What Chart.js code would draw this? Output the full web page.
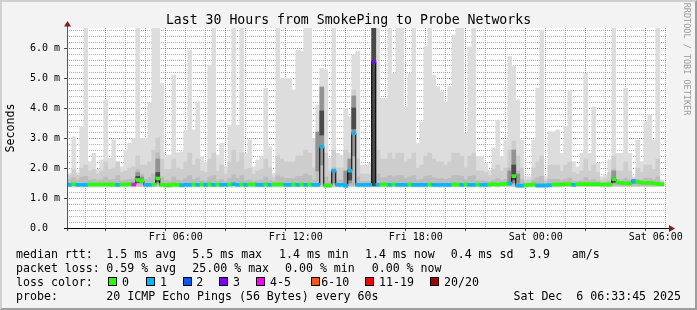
<!DOCTYPE html>
<html><head><meta charset="utf-8">
<script src="https://cdn.jsdelivr.net/npm/chart.js@4/dist/chart.umd.min.js"></script>
<style>
html,body{margin:0;padding:0;}
body{width:697px;height:310px;position:relative;overflow:hidden;background:#f3f3f3;font-family:"DejaVu Sans Mono",monospace;color:#000;}
#frame{position:absolute;left:0;top:0;width:697px;height:310px;box-sizing:border-box;border-top:2px solid #cfcfcf;border-left:2px solid #cfcfcf;border-right:2px solid #9e9e9e;border-bottom:2px solid #9e9e9e;}
canvas{position:absolute;left:0;top:0;}
.t{position:absolute;white-space:pre;font-size:11.6px;line-height:14px;}
.box{position:absolute;width:9px;height:9px;box-sizing:border-box;border:1px solid #000;}
#title{position:absolute;left:0;top:11.5px;width:697px;text-align:center;font-size:13.2px;line-height:16px;white-space:pre;}
#ytitle{position:absolute;left:-40px;top:121px;width:100px;text-align:center;font-size:11.6px;line-height:14px;transform:rotate(-90deg);}
#credit{position:absolute;left:587px;top:54px;width:200px;text-align:center;font-size:8.5px;line-height:10px;color:#9a9a9a;transform:rotate(90deg);white-space:pre;}
</style></head><body>
<div id="frame"></div>
<canvas id="c" width="697" height="310"></canvas>
<div id="title">Last 30 Hours from SmokePing to Probe Networks</div>
<div id="ytitle">Seconds</div>
<div id="credit">RRDTOOL / TOBI OETIKER</div>
<div id="legend"></div>
<script>
// ---- data (milliseconds), one entry per 12-minute column ----
const smokeMax = [
1.82,3.04,1.85,3.38,7,2.21,2.49,1.95,2.27,4.27,
2.32,2.93,2.21,2.04,2.6,2.82,2.99,7,2.99,2.99,
4.16,7,7,4.82,2.43,2.43,5.1,2.51,2.54,3.27,
5.93,3.27,4.21,2.38,2.18,5.43,7,2.43,2.82,2.04,
3.43,7,3.43,7,2.49,2.93,2.04,2.27,2.4,4.66,
2.71,1.82,7,4.99,4.99,4.99,4.6,5.93,5.9,7,
7,2.99,4.1,5.32,5.27,2.32,7,2.49,2.43,3.99,
3.71,5.77,5.9,2.1,2.1,2.15,7,7,4.32,4.32,
7,5.16,7,7,4.04,5.16,7,2.82,3.54,6.04,
7,5.1,4.71,4.54,4.21,4.71,6.43,7,7,3.16,
6.04,7,2.38,2.38,2.16,1.93,2.66,3.6,2.38,2.93,
5.71,5.38,4.27,2.93,1.71,1.71,2.93,4.66,6.6,1.71,
3.21,3.21,3.27,2.49,3.38,4.6,2.21,2.04,2.49,5.16,
2.49,4.04,2.16,1.71,1.77,2.27,7,2.49,2.49,4.66,
2.49,1.71,2.93,2.21,3.54,3.77,2.93,7,1.6];
const smokeQ2 = [
1.75,1.95,1.75,2.0,2.1,1.9,1.95,1.8,1.9,2.2,
1.95,2.0,2.2,1.85,1.9,2.0,2.05,2.4,2.1,2.1,
2.2,2.6,3.0,2.3,1.95,1.95,2.3,2.0,1.95,2.2,
2.5,2.1,2.3,1.9,1.85,2.3,2.5,1.9,2.1,1.8,
2.2,2.6,2.2,2.5,1.95,2.0,1.8,1.9,1.95,2.3,
2.0,1.7,2.4,2.3,2.2,2.2,2.2,2.4,2.4,2.6,
2.5,2.0,3.0,3.6,2.5,1.9,2.6,2.0,2.0,2.6,
2.5,4.6,2.3,1.8,1.8,1.8,7,2.6,2.3,2.3,
2.5,2.3,2.5,2.5,2.2,2.3,2.5,2.0,2.1,2.4,
2.5,2.3,2.2,2.2,2.1,2.2,2.5,2.5,2.4,2.0,
2.4,2.5,1.9,1.9,1.85,1.75,1.95,2.1,1.9,2.0,
2.6,2.9,2.4,2.0,1.6,1.6,2.0,2.2,2.4,1.6,
2.1,2.1,2.1,1.9,2.1,2.2,1.85,1.8,1.9,2.3,
1.9,2.1,1.85,1.6,1.65,1.85,2.4,1.9,1.9,2.2,
1.9,1.65,2.0,1.85,2.1,2.1,1.95,2.3,1.55];
const smokeQ3 = [
1.62,1.68,1.6,1.7,1.72,1.6,1.62,1.58,1.6,1.7,
1.6,1.62,1.75,1.58,1.6,1.62,1.65,1.95,1.8,1.62,
1.68,1.8,2.5,1.7,1.58,1.58,1.7,1.6,1.58,1.65,
1.75,1.62,1.68,1.58,1.56,1.7,1.75,1.58,1.62,1.55,
1.65,1.78,1.65,1.75,1.58,1.6,1.55,1.58,1.6,1.7,
1.6,1.55,1.75,1.7,1.65,1.65,1.65,1.72,1.72,1.8,
1.75,1.6,2.3,3.0,1.7,1.56,2.0,1.6,1.6,1.9,
2.1,4.2,1.7,1.55,1.55,1.55,7,1.8,1.68,1.68,
1.75,1.7,1.75,1.75,1.65,1.7,1.75,1.6,1.62,1.72,
1.75,1.68,1.65,1.65,1.62,1.65,1.75,1.75,1.72,1.6,
1.72,1.75,1.58,1.58,1.56,1.55,1.6,1.65,1.58,1.62,
2.0,2.3,1.9,1.62,1.5,1.5,1.6,1.68,1.72,1.5,
1.62,1.62,1.62,1.58,1.62,1.66,1.56,1.56,1.58,1.68,
1.58,1.62,1.56,1.5,1.52,1.56,1.95,1.62,1.6,1.66,
1.6,1.6,1.62,1.6,1.66,1.66,1.6,1.7,1.5];
const smokeMin = [
1.37,1.37,1.37,1.37,1.37,1.37,1.37,1.37,1.37,1.37,
1.37,1.37,1.37,1.37,1.37,1.37,1.37,1.38,1.38,1.37,
1.37,1.37,1.38,1.37,1.36,1.36,1.37,1.37,1.36,1.37,
1.37,1.37,1.37,1.37,1.37,1.37,1.37,1.37,1.37,1.37,
1.37,1.37,1.37,1.37,1.37,1.37,1.37,1.37,1.37,1.37,
1.37,1.37,1.37,1.37,1.37,1.37,1.37,1.37,1.37,1.37,
1.37,1.37,1.37,1.38,1.35,1.35,1.37,1.37,1.37,1.35,
1.37,1.38,1.37,1.37,1.37,1.37,1.38,1.37,1.37,1.37,
1.37,1.37,1.37,1.37,1.37,1.37,1.37,1.37,1.37,1.37,
1.37,1.37,1.37,1.37,1.37,1.37,1.37,1.37,1.37,1.37,
1.37,1.37,1.37,1.37,1.37,1.37,1.38,1.37,1.38,1.38,
1.38,1.38,1.35,1.35,1.36,1.37,1.37,1.35,1.35,1.35,
1.36,1.37,1.37,1.37,1.38,1.38,1.37,1.38,1.38,1.38,
1.38,1.38,1.38,1.37,1.37,1.37,1.39,1.39,1.39,1.39,
1.39,1.39,1.39,1.39,1.39,1.39,1.39,1.39,1.39];
const smokeInnerLow = 1.41;
const medianRtt = [
1.44,1.46,1.44,1.44,1.44,1.45,1.45,1.45,1.45,1.45,
1.45,1.45,1.44,1.45,1.45,1.46,1.45,1.60,1.57,1.44,
1.44,1.45,1.65,1.44,1.43,1.43,1.45,1.44,1.43,1.44,
1.44,1.45,1.44,1.45,1.44,1.45,1.44,1.45,1.44,1.44,
1.45,1.46,1.44,1.45,1.44,1.45,1.45,1.44,1.44,1.45,
1.44,1.45,1.45,1.45,1.44,1.44,1.45,1.44,1.45,1.44,
1.45,1.44,1.44,2.71,1.42,1.42,1.91,1.44,1.44,1.41,
1.91,3.16,1.44,1.44,1.44,1.44,5.54,1.44,1.45,1.45,
1.44,1.45,1.44,1.44,1.44,1.45,1.44,1.44,1.44,1.44,
1.45,1.44,1.44,1.44,1.44,1.44,1.45,1.45,1.44,1.45,
1.44,1.44,1.45,1.44,1.44,1.45,1.46,1.45,1.46,1.47,
1.48,1.73,1.42,1.41,1.43,1.44,1.45,1.42,1.42,1.42,
1.43,1.45,1.45,1.45,1.46,1.46,1.44,1.46,1.46,1.46,
1.46,1.46,1.46,1.45,1.45,1.45,1.63,1.52,1.50,1.49,
1.48,1.56,1.53,1.51,1.50,1.50,1.49,1.47,1.46];
const lossCount = [
1,0,1,1,1,0,0,0,0,0,
0,0,1,0,0,0,4,0,0,1,
1,0,0,0,0,0,0,0,1,1,
1,0,1,0,1,0,1,0,1,1,
0,1,1,0,1,0,0,1,1,0,
1,0,0,0,1,1,0,1,0,1,
0,1,1,1,0,0,1,1,1,1,
1,1,1,1,1,1,3,1,0,0,
1,0,1,1,1,0,1,1,1,1,
0,1,1,1,1,1,0,0,1,0,
1,1,0,1,1,0,0,0,0,0,
1,0,1,1,0,0,0,1,1,1,
1,0,0,0,0,0,1,0,0,0,
0,0,0,0,0,0,0,0,0,0,
0,1,0,0,0,0,0,0,0];
// darker smoke around the bursts
const darkCols = [17,18,22,62,63,66,69,70,71,76,110,111,112,136,141];
const darkLo   = [1.50,1.50,1.50,1.90,2.10,1.50,1.45,1.50,2.40,1.40,1.50,1.50,1.50,1.50,1.48];
const darkHi   = [1.85,1.70,2.30,3.20,4.70,1.95,1.90,2.30,4.40,7,1.90,2.60,1.80,1.90,1.62];
const coreCols = [17,22,63,70,71,76,111,136];
const coreLo   = [1.52,1.55,3.10,1.60,3.30,1.40,1.60,1.52];
const coreHi   = [1.72,1.85,3.90,1.95,4.00,7,2.10,1.68];

// loss colour legend
const lossThresholds = [0,1,2,3,5,10,19,20];
const lossLabels = ['0','1','2','3','4-5','6-10','11-19','20/20'];
const lossColors = ['#26ff00','#00b8ff','#0059ff','#7e00ff','#ff00ff','#ff5500','#ff0000','#a10000'];

// axis (hours after Fri 00:00)
const xMin = 0.5625, xMax = 30.5625;
const firstColumnHour = 0.7, columnHours = 0.2;
const xLabelHours = [6,12,18,24,30];
const xLabelTexts = ['Fri 06:00','Fri 12:00','Fri 18:00','Sat 00:00','Sat 06:00'];
const yMax = 20/3;

// legend texts
const legendRows = [
  [['median rtt:',16],['1.5 ms avg',106.3],['5.5 ms max',192.3],['1.4 ms min',279],['1.4 ms now',365],['0.4 ms sd',450.7],['3.9',529],['am/s',571.7]],
  [['packet loss:',16],['0.59 % avg',106.3],['25.00 % max',192.3],['0.00 % min',285],['0.00 % now',371.7]],
  [['loss color:',16]],
  [['probe:',16],['20 ICMP Echo Pings (56 Bytes) every 60s',106.3]]
];
const probeTime = 'Sat Dec  6 06:33:45 2025';
const boxX = [108,145.7,182.7,219.3,255.7,311,365,430];
const boxLabelX = [122,160,196.3,233,270,321.3,379,444];

// ---- legend DOM ----
const lg = document.getElementById('legend');
const rowTop = [247,261,275,289];
legendRows.forEach((row,r)=>row.forEach(([txt,x])=>{
  const s=document.createElement('div'); s.className='t'; s.textContent=txt;
  s.style.left=x+'px'; s.style.top=rowTop[r]+'px'; lg.appendChild(s);
}));
lossLabels.forEach((lab,i)=>{
  const b=document.createElement('div'); b.className='box'; b.style.left=boxX[i]+'px'; b.style.top='277px'; b.style.background=lossColors[i]; lg.appendChild(b);
  const s=document.createElement('div'); s.className='t'; s.textContent=lab; s.style.left=boxLabelX[i]+'px'; s.style.top='275px'; lg.appendChild(s);
});
const pt=document.createElement('div'); pt.className='t'; pt.textContent=probeTime; pt.style.right='16px'; pt.style.top='289px'; lg.appendChild(pt);

// ---- chart ----
function lossColor(n){ for(let i=0;i<lossThresholds.length;i++){ if(n<=lossThresholds[i]) return lossColors[i]; } return lossColors[lossColors.length-1]; }
const xs = medianRtt.map((_,k)=>firstColumnHour + k*columnHours);
const band = (lo,hi)=>xs.map((x,k)=>({x, y:[Array.isArray(lo)?lo[k]:lo, hi[k]]}));
const sparse = (cols,lo,hi)=>cols.map((k,i)=>({x:xs[k], y:[lo[i],hi[i]]}));
const hourTicks=[]; for(let h=1;h<=30;h++) hourTicks.push(h);
const yTicks=[]; for(let i=0;i<=33;i++) yTicks.push(Math.round(i*2)/10);
const isInt = v=>Math.abs(v-Math.round(v))<1e-9;
const MAJOR='rgba(235,40,40,0.7)', MINOR='rgba(110,110,110,0.55)';

const framePlugin = {
  id:'framePlugin',
  beforeDraw(ch){ const {ctx,chartArea:a}=ch; ctx.save(); ctx.fillStyle='#ffffff'; ctx.fillRect(a.left,a.top,a.right-a.left,a.bottom-a.top); ctx.restore(); },
  afterDraw(ch){ const {ctx,chartArea:a}=ch; ctx.save();
    ctx.lineWidth=1;
    ctx.strokeStyle='#555555'; ctx.beginPath(); ctx.moveTo(a.left+0.5,a.bottom+3); ctx.lineTo(a.left+0.5,a.top-2); ctx.stroke();
    ctx.strokeStyle='#000000'; ctx.beginPath(); ctx.moveTo(a.left-3,a.bottom+0.5); ctx.lineTo(a.right+2,a.bottom+0.5); ctx.stroke();
    ctx.fillStyle='#8b1a1a';
    ctx.beginPath(); ctx.moveTo(a.left+0.5,a.top-7); ctx.lineTo(a.left-3,a.top-1.5); ctx.lineTo(a.left+4,a.top-1.5); ctx.closePath(); ctx.fill();
    ctx.beginPath(); ctx.moveTo(a.right+8,a.bottom+0.5); ctx.lineTo(a.right+2,a.bottom-3); ctx.lineTo(a.right+2,a.bottom+4); ctx.closePath(); ctx.fill();
    ctx.restore(); }
};

Chart.defaults.font.family = '"DejaVu Sans Mono", monospace';
new Chart(document.getElementById('c'), {
  type:'bar',
  data:{ datasets:[
    {type:'bar', data:xs.map((x,k)=>({x,y:[medianRtt[k]-0.05, medianRtt[k]+0.05]})), backgroundColor:lossCount.map(lossColor), order:0, clip:0},
    {type:'line', data:xs.map((x,k)=>({x,y:medianRtt[k]})), borderColor:'#000', borderWidth:1, stepped:'middle', pointRadius:0, order:1, clip:0},
    {type:'bar', data:sparse(coreCols,coreLo,coreHi), backgroundColor:'#4a4a4a', order:2, clip:0},
    {type:'bar', data:sparse(darkCols,darkLo,darkHi), backgroundColor:'#939393', order:3, clip:0},
    {type:'bar', data:band(smokeInnerLow,smokeQ3), backgroundColor:'#bcbcbc', order:4, clip:0},
    {type:'bar', data:band(smokeMin,smokeQ2), backgroundColor:'#cdcdcd', order:5, clip:0},
    {type:'bar', data:band(smokeMin,smokeMax), backgroundColor:'#dddddd', order:6, clip:0}
  ]},
  options:{
    responsive:false, animation:false, devicePixelRatio:1,
    layout:{padding:{left:0,top:28,right:30,bottom:62}},
    plugins:{legend:{display:false}, tooltip:{enabled:false}},
    datasets:{bar:{grouped:false, barPercentage:1, categoryPercentage:1, borderWidth:0}},
    scales:{
      x:{type:'linear', min:xMin, max:xMax, offset:false, z:1,
        afterFit(s){ s.height=20; },
        afterBuildTicks(s){ s.ticks=hourTicks.map(v=>({value:v})); },
        grid:{color:c=>c.tick && c.tick.value%3===0?MAJOR:MINOR, lineWidth:1, drawTicks:true, tickLength:3,
              tickColor:c=>c.tick && c.tick.value%3===0?'#444':'rgba(0,0,0,0)', tickBorderDash:[]},
        border:{display:false, dash:[1,1]},
        ticks:{autoSkip:false, maxRotation:0, minRotation:0, padding:0, color:'#000', font:{size:10},
          callback(v){ const i=xLabelHours.indexOf(v); return i<0?'':xLabelTexts[i]; }}
      },
      y:{type:'linear', min:0, max:yMax, z:1,
        afterFit(s){ s.width=67; },
        afterBuildTicks(s){ s.ticks=yTicks.map(v=>({value:v})); },
        grid:{color:c=>c.tick && isInt(c.tick.value)?MAJOR:MINOR, lineWidth:1, drawTicks:true, tickLength:3,
              tickColor:c=>c.tick && isInt(c.tick.value)?'#444':'rgba(0,0,0,0)', tickBorderDash:[]},
        border:{display:false, dash:[1,1]},
        ticks:{autoSkip:false, padding:4, color:'#000', font:{size:10},
          callback(v){ if(!isInt(v)) return ''; return v===0?'0.0  ':v.toFixed(1)+' m'; }}
      }
    }
  },
  plugins:[framePlugin]
});
</script>
</body></html>
